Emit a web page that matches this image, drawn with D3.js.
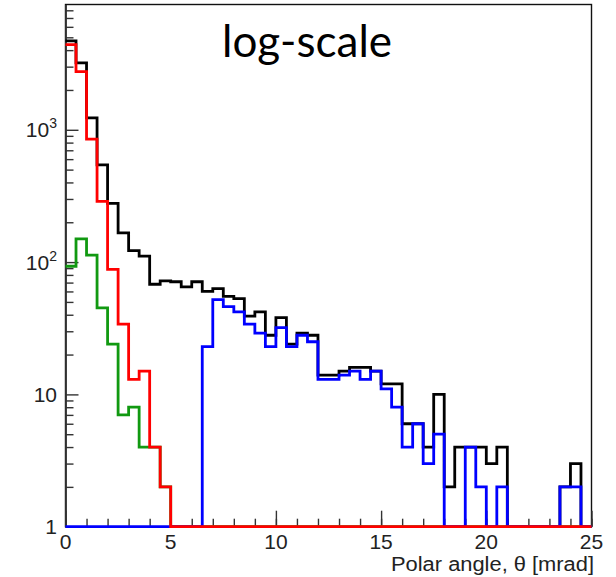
<!DOCTYPE html>
<html>
<head>
<meta charset="utf-8">
<script src="https://cdn.jsdelivr.net/npm/d3@7/dist/d3.min.js"></script>
<style>
  html, body { margin: 0; padding: 0; background: #fff; }
  svg { display: block; }
</style>
</head>
<body>
<svg id="chart" width="616" height="577"></svg>
<script>
// ---- data (counts per 0.5 mrad bin, 0 .. 25 mrad) ----
const binWidth = 0.5;
const binLow = d3.range(0, 25, binWidth);  // 50 bin low edges

const blackCounts = [4700, 3200, 1230, 543, 278, 166, 122, 111, 68, 72,
                     71, 65, 71, 60, 63, 55, 53, 39, 42, 28,
                     38, 24, 29, 28, 14, 14, 15, 16, 16, 15,
                     12, 12, 6, 6, 4, 10, 2, 4, 4, 4,
                     3, 4, 0, 0, 0, 0, 0, 2, 3, 0];
const greenCounts = [93, 150, 113, 45, 24, 7, 8, 4, 4, 2,
                     0, 0, 0, 0, 0, 0, 0, 0, 0, 0,
                     0, 0, 0, 0, 0, 0, 0, 0, 0, 0,
                     0, 0, 0, 0, 0, 0, 0, 0, 0, 0,
                     0, 0, 0, 0, 0, 0, 0, 0, 0, 0];
const blueCounts  = [0, 0, 0, 0, 0, 0, 0, 0, 0, 0,
                     0, 0, 0, 23, 52, 46, 42, 34, 29, 23,
                     32, 23, 28, 25, 13, 13, 14, 15, 13, 15,
                     11, 8, 4, 6, 3, 5, 0, 0, 4, 2,
                     0, 2, 0, 0, 0, 0, 0, 2, 2, 0];
const redCounts   = [4400, 2750, 850, 288, 88, 34, 13, 15, 4, 2,
                     0, 0, 0, 0, 0, 0, 0, 0, 0, 0,
                     0, 0, 0, 0, 0, 0, 0, 0, 0, 0,
                     0, 0, 0, 0, 0, 0, 0, 0, 0, 0,
                     0, 0, 0, 0, 0, 0, 0, 0, 0, 0];

const xMajorTicks = [0, 5, 10, 15, 20, 25];
const xMinorTicks = d3.range(0, 26, 1);
const yMajorTicks = [1, 10, 100, 1000];
const yTickLabels = [{base: "1", sup: ""}, {base: "10", sup: ""}, {base: "10", sup: "2"}, {base: "10", sup: "3"}];
const titleText = "log-scale";
const xAxisTitle = "Polar angle, \u03b8 [mrad]";

const series = [
  {name: "black", values: blackCounts, color: "#000000"},
  {name: "green", values: greenCounts, color: "#119911"},
  {name: "blue",  values: blueCounts,  color: "#0000ff"},
  {name: "red",   values: redCounts,   color: "#ff0000"}
];

// ---- layout ----
const svg = d3.select("#chart");
const plot = {left: 65.5, right: 591.5, top: 4.5, bottom: 526.7};
const x = d3.scaleLinear().domain([0, 25]).range([plot.left, plot.right]);
const y = d3.scaleLog().domain([1, 8850]).range([plot.bottom, plot.top]).clamp(true);

// ---- frame (top / right) ----
svg.append("rect")
  .attr("x", plot.left).attr("y", plot.top)
  .attr("width", plot.right - plot.left).attr("height", plot.bottom - plot.top)
  .attr("fill", "none").attr("stroke", "#111").attr("stroke-width", 1.4);

// ---- axes (ticks) ----
const yMinor = [];
[1, 10, 100, 1000].forEach(d => { for (let k = 2; k <= 9; k++) if (k * d <= 8850) yMinor.push(k * d); });
const yAxisMinor = d3.axisLeft(y).tickValues(yMinor).tickSize(-8).tickSizeOuter(0).tickFormat("");
const yAxisMajor = d3.axisLeft(y).tickValues(yMajorTicks).tickSize(-13).tickSizeOuter(0).tickFormat("");
[yAxisMinor, yAxisMajor].forEach(ax => {
  const g = svg.append("g").attr("transform", `translate(${plot.left},0)`).call(ax);
  g.selectAll("path.domain").attr("stroke", "#333").attr("stroke-width", 1.4);
  g.selectAll(".tick line").attr("stroke", "#333").attr("stroke-width", 1.4);
});
const xAxisMinor = d3.axisBottom(x).tickValues(xMinorTicks).tickSize(-8).tickSizeOuter(0).tickFormat("");
const xAxisMajor = d3.axisBottom(x).tickValues(xMajorTicks).tickSize(-16).tickSizeOuter(0).tickFormat("");
[xAxisMinor, xAxisMajor].forEach(ax => {
  const g = svg.append("g").attr("transform", `translate(0,${plot.bottom})`).call(ax);
  g.selectAll("path.domain").attr("stroke", "none");
  g.selectAll(".tick line").attr("stroke", "#333").attr("stroke-width", 1.4);
});

// ---- histograms ----
const line = d3.line().x(d => d[0]).y(d => d[1]);
function histPoints(values) {
  const pts = [];
  values.forEach((v, i) => {
    const yy = v > 0 ? y(Math.max(v, 1)) : y(1);
    pts.push([x(binLow[i]), yy]);
    pts.push([x(binLow[i] + binWidth), yy]);
  });
  return pts;
}
series.forEach(s => {
  svg.append("path")
    .attr("d", line(histPoints(s.values)))
    .attr("fill", "none")
    .attr("stroke", s.color)
    .attr("stroke-width", 2.8)
    .attr("stroke-linejoin", "miter");
});

// ---- tick labels ----
yMajorTicks.forEach((v, i) => {
  const lab = yTickLabels[i];
  const t = svg.append("text")
    .attr("x", 57).attr("y", y(v) + 7.5)
    .attr("text-anchor", "end")
    .attr("font-family", "Liberation Sans, Arial, sans-serif")
    .attr("font-size", 21).attr("fill", "#222");
  t.append("tspan").text(lab.base);
  if (lab.sup) {
    t.append("tspan").attr("font-size", 14).attr("dy", -9).text(lab.sup);
  }
});
xMajorTicks.forEach(v => {
  svg.append("text")
    .attr("x", x(v)).attr("y", 548.5)
    .attr("text-anchor", "middle")
    .attr("font-family", "Liberation Sans, Arial, sans-serif")
    .attr("font-size", 21).attr("fill", "#222")
    .text(v);
});
svg.append("text")
  .attr("x", 594).attr("y", 571)
  .attr("text-anchor", "end")
  .attr("font-family", "Liberation Sans, Arial, sans-serif")
  .attr("font-size", 20).attr("fill", "#222")
  .attr("textLength", 203).attr("lengthAdjust", "spacingAndGlyphs")
  .text(xAxisTitle);

// ---- title ----
const title = svg.append("text")
  .attr("x", 307).attr("y", 57)
  .attr("text-anchor", "middle")
  .attr("font-family", "Lato, 'Open Sans', sans-serif")
  .attr("font-size", 44).attr("fill", "#000")
  .text(titleText);
const tl = title.node().getComputedTextLength();
if (Math.abs(tl - 170) > 2) {
  title.attr("textLength", 170).attr("lengthAdjust", "spacingAndGlyphs");
}
</script>
</body>
</html>
